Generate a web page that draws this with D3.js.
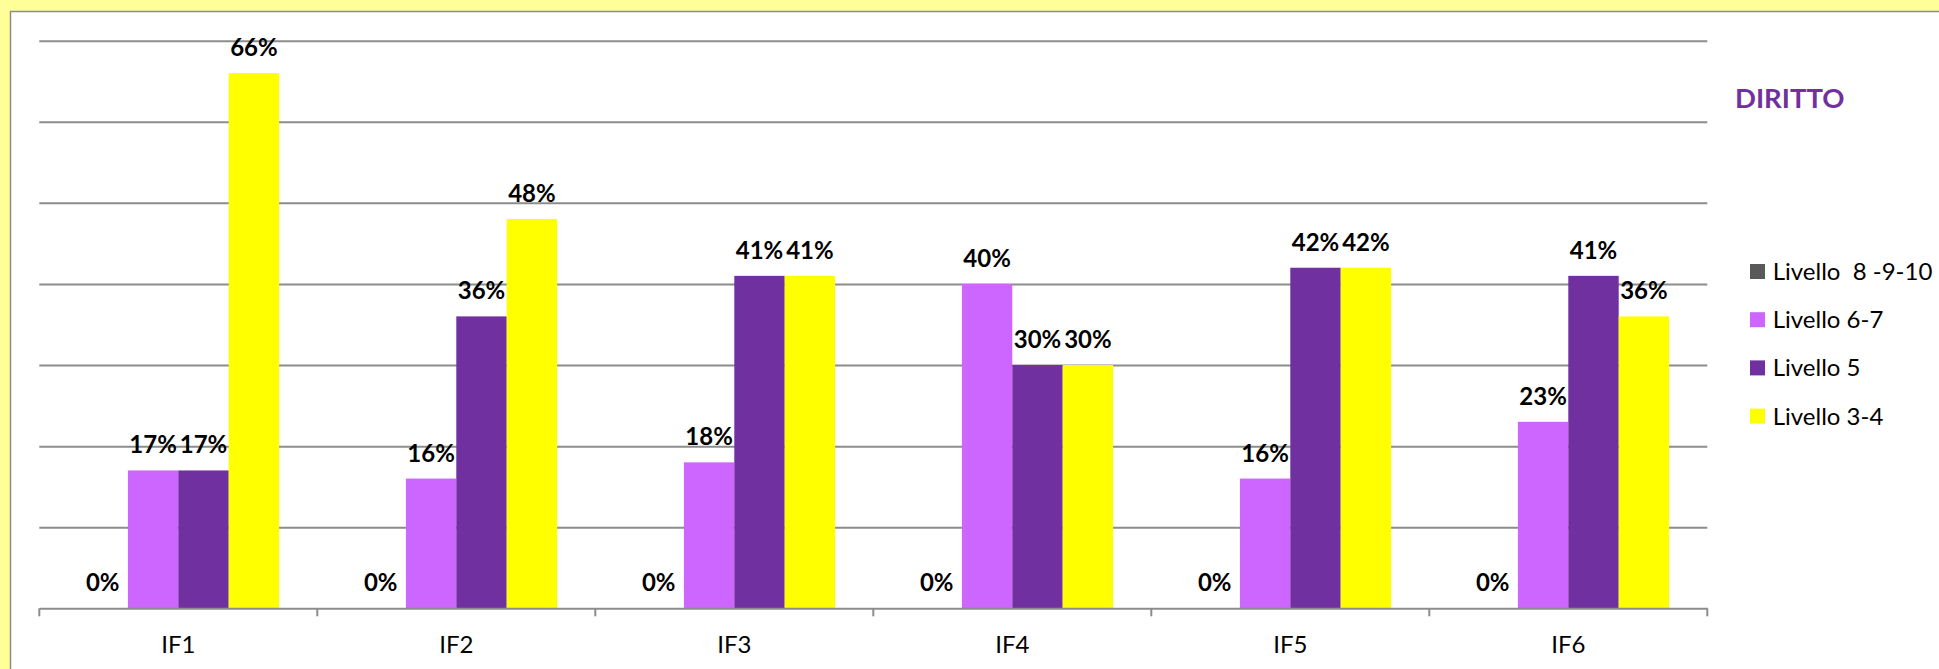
<!DOCTYPE html>
<html><head><meta charset="utf-8">
<script src="https://cdn.jsdelivr.net/npm/d3@7"></script>
<style>html,body{margin:0;padding:0;background:#FFFF99;overflow:hidden}</style>
</head><body>
<svg id="c" width="1939" height="669"></svg>
<script>
const categories = ["IF1","IF2","IF3","IF4","IF5","IF6"];
const seriesNames = ["Livello  8 -9-10","Livello 6-7","Livello 5","Livello 3-4"];
const seriesColors = ["#595959","#CC66FF","#7030A0","#FFFF00"];
const livello8910 = [0,0,0,0,0,0];
const livello67 = [17,16,18,40,16,23];
const livello5 = [17,36,41,30,42,41];
const livello34 = [66,48,41,30,42,36];
const yTicks = [0,10,20,30,40,50,60,70];
const title = "DIRITTO";

const seriesValues = [livello8910, livello67, livello5, livello34];
const svg = d3.select("#c");
const font = "Lato, 'Open Sans', sans-serif";

svg.append("rect").attr("x",0).attr("y",0).attr("width",1939).attr("height",669).attr("fill","#FFFF99");
svg.append("rect").attr("x",10.5).attr("y",11.5).attr("width",1940).attr("height",670)
  .attr("fill","#fff").attr("stroke","#8c8c8c").attr("stroke-width",1.5);

const pLeft = 39.3, pRight = 1707.3, pTop = 40.7, pBottom = 608.3;
const x0 = d3.scaleBand().domain(categories).range([pLeft,pRight]).padding(0);
const x1 = d3.scaleBand().domain(d3.range(seriesNames.length)).range([0,x0.bandwidth()]).paddingInner(0).paddingOuter(0.758);
const y = d3.scaleLinear().domain([0,70]).range([pBottom,pTop]);

// gridlines
const grid = svg.append("g").attr("transform",`translate(${pLeft},0)`)
  .call(d3.axisLeft(y).tickValues(yTicks.slice(1)).tickSize(-(pRight-pLeft)).tickFormat(""));
grid.select(".domain").remove();
grid.selectAll("line").attr("stroke","#8c8c8c").attr("stroke-width",2);

// bars
const groups = svg.append("g").selectAll("g").data(categories).join("g")
  .attr("transform",d=>`translate(${x0(d)},0)`);
groups.each(function(cat,ci){
  const g = d3.select(this);
  const vals = seriesValues.map((s,si)=>({si, v:s[ci]}));
  g.selectAll("rect").data(vals).join("rect")
    .attr("x",d=>x1(d.si)).attr("width",x1.bandwidth())
    .attr("y",d=>y(d.v)).attr("height",d=>y(0)-y(d.v))
    .attr("fill",d=>seriesColors[d.si]);
  g.selectAll("text").data(vals).join("text")
    .attr("x",d=>x1(d.si)+x1.bandwidth()/2).attr("y",d=>y(d.v)-17)
    .attr("text-anchor","middle").attr("font-family",font).attr("font-weight","bold")
    .attr("font-size",24).attr("fill","#000").text(d=>d.v+"%");
});

// x axis
const xa = svg.append("g").attr("transform",`translate(0,${pBottom})`)
  .call(d3.axisBottom(x0).tickSizeInner(0).tickSizeOuter(0).tickPadding(28));
xa.select(".domain").attr("stroke","#8c8c8c").attr("stroke-width",2);
xa.selectAll("text").attr("font-family",font).attr("font-size",24).attr("fill","#000");
const bounds = categories.map(c=>x0(c)).concat([x0(categories[categories.length-1])+x0.bandwidth()]);
svg.append("g").selectAll("line").data(bounds).join("line")
  .attr("x1",d=>d).attr("x2",d=>d).attr("y1",pBottom).attr("y2",pBottom+8)
  .attr("stroke","#8c8c8c").attr("stroke-width",2);

// title
svg.append("text").attr("x",1735).attr("y",107.7).attr("font-family",font).attr("font-weight","bold")
  .attr("font-size",27.5).attr("fill","#7030A0").text(title);

// legend
const lg = svg.append("g").selectAll("g").data(seriesNames).join("g")
  .attr("transform",(d,i)=>`translate(1750,${271.5+i*48.2})`);
lg.append("rect").attr("x",0).attr("y",-7.5).attr("width",15).attr("height",15).attr("fill",(d,i)=>seriesColors[i]);
lg.append("text").attr("x",22.7).attr("y",8.5).attr("font-family",font).attr("font-size",24)
  .attr("fill","#000").style("white-space","pre").text(d=>d);
</script>
</body></html>
